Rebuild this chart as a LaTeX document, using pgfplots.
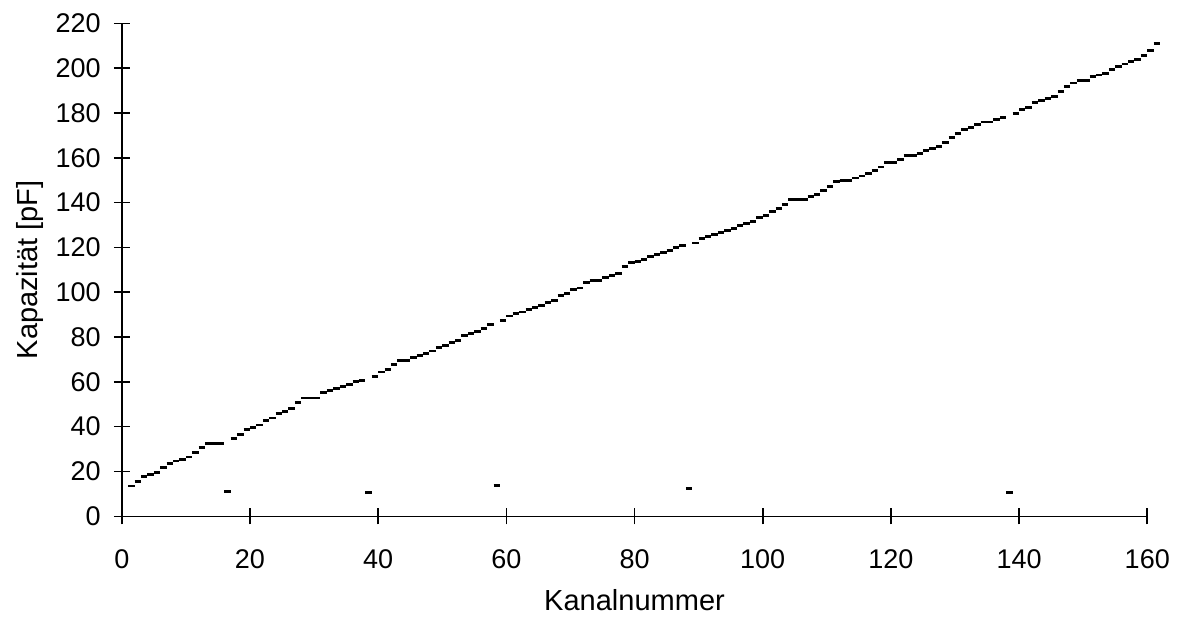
\documentclass[border=0pt]{standalone}
\usepackage{fontspec}
\setmainfont{Liberation Sans}
\usepackage{pgfplots}
\pgfplotsset{compat=1.18}

% short horizontal dash, one channel wide, drawn to the right of the point
\pgfdeclareplotmark{hdash}{%
  \pgfpathmoveto{\pgfqpoint{0pt}{0pt}}%
  \pgfpathlineto{\pgfqpoint{2\pgfplotmarksize}{0pt}}%
  \pgfusepathqstroke}

\begin{document}
\begin{tikzpicture}
\begin{axis}[
  scale only axis,
  width=512.5pt, height=246.4pt,
  xmin=0, xmax=160, ymin=0, ymax=220,
  axis x line*=bottom, axis y line*=left,
  axis line style={line width=0.8pt},
  xtick={0,20,...,160}, ytick={0,20,...,220},
  tick align=center, major tick length=8pt,
  tick style={line width=0.8pt, black},
  minor tick num=0,
  /pgf/number format/assume math mode=true,
  tick label style={font=\fontsize{13.5}{15}\selectfont},
  xticklabel style={yshift=-9pt},
  yticklabel style={xshift=-3pt},
  xlabel={Kanalnummer},
  ylabel={Kapazität [pF]},
  every axis x label/.style={at={(axis description cs:0.5,-0.1705)}, anchor=center,
    font=\fontsize{14.5}{17}\selectfont},
  every axis y label/.style={at={(axis description cs:-0.0898,0.5)}, rotate=90, anchor=center,
    font=\fontsize{14.5}{17}\selectfont},
  clip=false,
]
\addplot[only marks, mark=hdash, mark size=1.6pt,
  mark options={line width=1.4pt, line cap=butt, black}] coordinates {
  (1,13.5)(2,15.5)(3,17.6)(4,18.6)(5,19.6)(6,21.7)(7,23.5)(8,24.7)(9,25.3)(10,26.5)
  (11,28.4)(12,30.6)(13,32.4)(14,32.4)(15,32.4)(16,11.2)(17,34.7)(18,36.6)(19,38.7)(20,39.7)
  (21,40.8)(22,42.9)(23,43.9)(24,45.8)(25,46.9)(26,48.1)(27,50.7)(28,52.8)(29,52.8)(30,52.8)
  (31,55.1)(32,56.3)(33,57.0)(34,58.0)(35,58.9)(36,60.0)(37,60.7)(38,10.5)(39,62.5)(40,64.4)
  (41,65.6)(42,67.7)(43,69.6)(44,69.6)(45,70.7)(46,71.6)(47,72.6)(48,73.8)(49,75.3)(50,76.3)
  (51,77.4)(52,78.6)(53,80.8)(54,81.5)(55,82.6)(56,83.8)(57,85.6)(58,13.8)(59,87.5)(60,89.4)
  (61,90.5)(62,91.2)(63,92.3)(64,93.2)(65,94.2)(66,95.4)(67,96.4)(68,98.4)(69,99.4)(70,101.2)
  (71,101.9)(72,104.3)(73,105.4)(74,105.4)(75,106.4)(76,107.6)(77,108.3)(78,111.5)(79,113.2)(80,113.8)
  (81,114.7)(82,115.8)(83,116.8)(84,117.7)(85,118.6)(86,119.8)(87,120.7)(88,12.5)(89,122.0)(90,124.0)
  (91,124.7)(92,125.7)(93,126.6)(94,127.7)(95,128.4)(96,129.6)(97,130.7)(98,131.4)(99,133.2)(100,134.4)
  (101,135.9)(102,137.4)(103,139.1)(104,141.5)(105,141.5)(106,141.5)(107,142.6)(108,143.6)(109,145.5)(110,147.3)
  (111,149.3)(112,150.0)(113,150.0)(114,151.0)(115,151.9)(116,153.0)(117,154.2)(118,155.9)(119,157.9)(120,157.9)
  (121,159.2)(122,160.9)(123,160.9)(124,161.9)(125,163.1)(126,164.1)(127,164.9)(128,166.8)(129,168.9)(130,170.7)
  (131,172.6)(132,173.4)(133,174.9)(134,176.0)(135,176.0)(136,177.1)(137,178.0)(138,10.5)(139,179.8)(140,181.6)
  (141,182.4)(142,184.5)(143,185.7)(144,186.5)(145,187.5)(146,189.4)(147,191.7)(148,193.4)(149,194.6)(150,194.6)
  (151,196.1)(152,196.9)(153,197.6)(154,199.4)(155,200.9)(156,201.8)(157,202.8)(158,203.9)(159,205.8)(160,207.7)
  (161,211.0)};
% keep the page the size of the reference
\path (axis cs:-19,-49.1) rectangle (axis cs:166.2,230.4);
\end{axis}
\end{tikzpicture}
\end{document}
